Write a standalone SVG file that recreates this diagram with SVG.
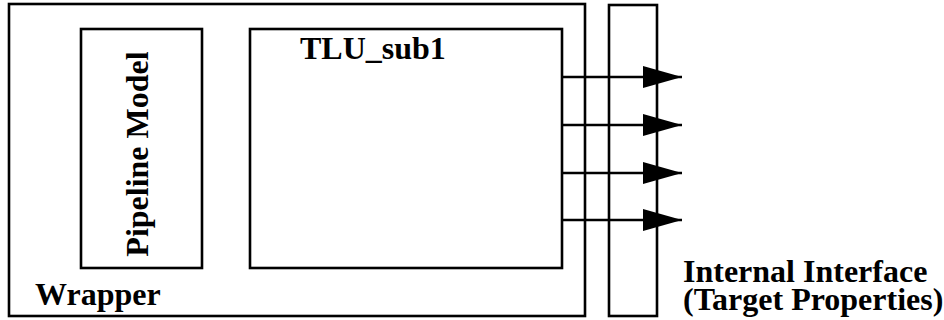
<svg xmlns="http://www.w3.org/2000/svg" width="944" height="320" viewBox="0 0 944 320">
<style>
.box{fill:none;stroke:#000;stroke-width:2.6}
.lbl{font-family:"Liberation Serif","Times New Roman",serif;font-weight:bold;font-size:32px;fill:#000}
.conn{stroke:#000;stroke-width:2.6;fill:none}
</style>
<defs>
<marker id="arr" markerUnits="userSpaceOnUse" markerWidth="40" markerHeight="24" refX="39" refY="11" orient="auto">
<path d="M0,0 L39,11 L0,22 Z" fill="#000"/>
</marker>
</defs>
<rect width="944" height="320" fill="#fff"/>
<g id="wrapper">
<rect class="box" x="9" y="4" width="576" height="312"/>
<text class="lbl" x="35" y="305">Wrapper</text>
</g>
<g id="pipeline">
<rect class="box" x="81" y="29" width="121" height="239"/>
<text class="lbl" transform="translate(148,154) rotate(-90)" text-anchor="middle">Pipeline Model</text>
</g>
<g id="tlu_sub1">
<rect class="box" x="250" y="29" width="312" height="239"/>
<text class="lbl" x="300" y="59">TLU_sub1</text>
</g>
<g id="interface">
<rect class="box" x="609" y="5" width="48" height="311"/>
<text class="lbl" x="683" y="282">Internal Interface</text>
<text class="lbl" x="683" y="310">(Target Properties)</text>
</g>
<g id="connectors">
<line class="conn" x1="562" y1="77" x2="682" y2="77" marker-end="url(#arr)"/>
<line class="conn" x1="562" y1="125" x2="682" y2="125" marker-end="url(#arr)"/>
<line class="conn" x1="562" y1="173" x2="682" y2="173" marker-end="url(#arr)"/>
<line class="conn" x1="562" y1="220" x2="682" y2="220" marker-end="url(#arr)"/>
</g>
</svg>
